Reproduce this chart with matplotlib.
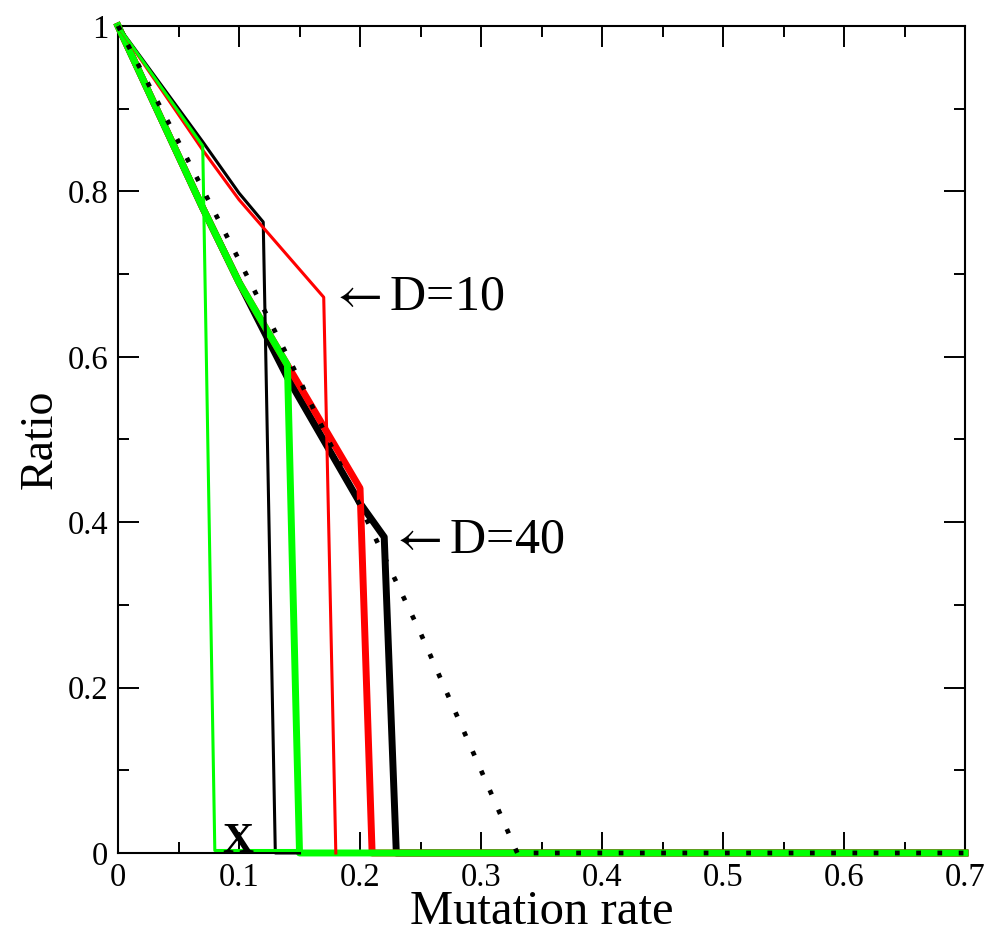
import matplotlib
matplotlib.use("Agg")
import matplotlib.pyplot as plt
from matplotlib.ticker import MultipleLocator

plt.rcParams['font.family'] = ['Liberation Serif', 'DejaVu Serif']
plt.rcParams['mathtext.fontset'] = 'stix'

# Data
thick_black_x = [0, 0.07, 0.10, 0.14, 0.20, 0.22, 0.23, 0.70]
thick_black_y = [1, 0.78, 0.69, 0.575, 0.423, 0.382, 0.0, 0.0]
thick_red_x = [0, 0.07, 0.10, 0.14, 0.20, 0.21, 0.70]
thick_red_y = [1, 0.78, 0.69, 0.59, 0.441, 0.0, 0.0]
thick_green_x = [0, 0.07, 0.10, 0.14, 0.15, 0.70]
thick_green_y = [1, 0.78, 0.69, 0.59, 0.0, 0.0]

thin_black_x = [0, 0.07, 0.10, 0.12, 0.13, 0.15]
thin_black_y = [1, 0.86, 0.798, 0.763, 0.0, 0.0]
thin_red_x = [0, 0.07, 0.10, 0.17, 0.18]
thin_red_y = [1, 0.85, 0.79, 0.672, 0.0]
thin_green_x = [0, 0.07, 0.08, 0.15]
thin_green_y = [1, 0.855, 0.003, 0.003]

theory_x = [0, 0.05, 0.10, 0.15, 0.20, 0.25, 0.30, 0.33, 0.70]
theory_y = [1, 0.86, 0.717, 0.572, 0.42, 0.266, 0.10, 0.0, 0.0]

x_ticks = [0, 0.1, 0.2, 0.3, 0.4, 0.5, 0.6, 0.7]
x_tick_labels = ['0', '0.1', '0.2', '0.3', '0.4', '0.5', '0.6', '0.7']
y_ticks = [0, 0.2, 0.4, 0.6, 0.8, 1.0]
y_tick_labels = ['0', '0.2', '0.4', '0.6', '0.8', '1']

fig = plt.figure(figsize=(9.86, 9.42), dpi=100)
ax = fig.add_axes([0.1197, 0.0945, 0.8590, 0.8779])

thick = 5.0
thin = 2.2
ax.plot(thin_black_x, thin_black_y, color='black', lw=thin, clip_on=False, zorder=4)
ax.plot(thin_red_x, thin_red_y, color='#ff0000', lw=thin, clip_on=False, zorder=4)
ax.plot(thick_black_x, thick_black_y, color='black', lw=thick, clip_on=False, zorder=3)
ax.plot(thick_red_x, thick_red_y, color='#ff0000', lw=thick, clip_on=False, zorder=3.1)
ax.plot(thick_green_x, thick_green_y, color='#00ff00', lw=thick, clip_on=False, zorder=3.2)
ax.plot(thin_green_x, thin_green_y, color='#00ff00', lw=thin, clip_on=False, zorder=4)
ax.plot(theory_x, theory_y, color='black', lw=3.4, linestyle=(0, (1, 3.5)),
        dash_capstyle='butt', clip_on=False, zorder=5)

ax.set_xlim(0, 0.7)
ax.set_ylim(0, 1)
ax.set_xticks(x_ticks)
ax.set_xticklabels(x_tick_labels)
ax.set_yticks(y_ticks)
ax.set_yticklabels(y_tick_labels)
ax.xaxis.set_minor_locator(MultipleLocator(0.05))
ax.yaxis.set_minor_locator(MultipleLocator(0.1))
ax.tick_params(which='both', direction='in', top=True, right=True, width=1.4,
               labelsize=23.5, pad=7)
ax.tick_params(which='major', length=15)
ax.tick_params(which='minor', length=8)
for s in ax.spines.values():
    s.set_linewidth(1.5)

ax.set_xlabel('Mutation rate', fontsize=35, labelpad=-2)
ax.set_ylabel('Ratio', fontsize=33, labelpad=4)

ax.text(0.174, 0.672, r'$\leftarrow$D=10', fontsize=36, ha='left', va='center', zorder=6)
ax.text(0.224, 0.378, r'$\leftarrow$D=40', fontsize=36, ha='left', va='center', zorder=6)
ax.text(0.099, 0.013, 'X', fontsize=31, fontweight='bold', ha='center', va='center', zorder=6)

fig.savefig('out.png', dpi=100)
